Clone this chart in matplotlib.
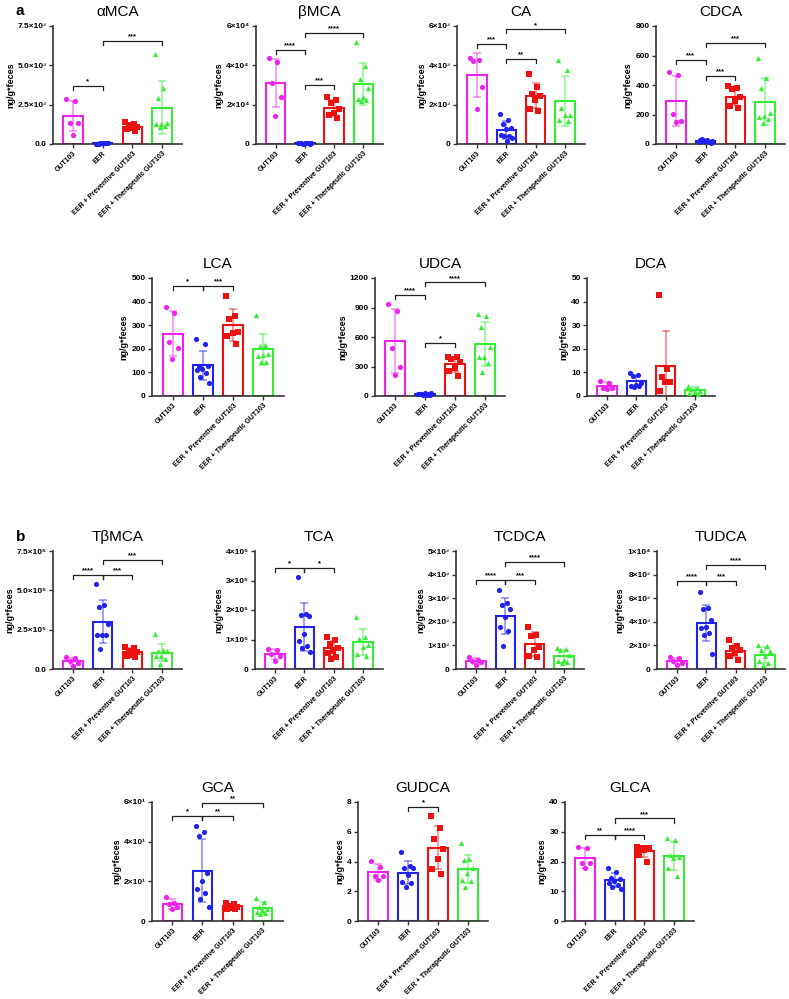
import numpy as np
import matplotlib
matplotlib.use('Agg')
import matplotlib.pyplot as plt

plt.rcParams['font.family'] = ['Liberation Sans', 'DejaVu Sans']

groups = ['GUT103', 'EER', 'EER + Preventive GUT103', 'EER + Therapeutic GUT103']
colors = ['#ee22ee', '#2222ee', '#ee1111', '#33ee33']
markers = ['o', 'o', 's', '^']

# panel a
amca = [[2840, 2740, 1350, 1350, 600],
        [30, 50, 20, 40, 60, 10, 35, 45],
        [1380, 1300, 1180, 1100, 1020, 950, 850],
        [5730, 3590, 2950, 1350, 1300, 1250, 1150, 1100]]
bmca = [[43700, 41700, 31200, 24000, 14200],
        [400, 300, 500, 250, 350, 450, 600, 200, 300],
        [24000, 22300, 20600, 17600, 16000, 14700, 13000],
        [51900, 39700, 33300, 28700, 24000, 22800, 22300, 21800]]
ca = [[4390, 4250, 4220, 2910, 1790],
      [1550, 1240, 1040, 820, 770, 440, 430, 390, 310, 170],
      [3570, 2890, 2550, 2430, 2260, 1800, 1700],
      [4270, 3740, 1840, 1500, 1460, 1240, 1190]]
cdca = [[488, 466, 206, 154, 149],
        [15, 25, 35, 10, 20, 30, 12, 18, 22],
        [391, 378, 372, 320, 292, 255, 246],
        [583, 450, 382, 210, 188, 183, 167, 142]]
lca = [[377, 351, 228, 205, 157],
       [242, 221, 127, 127, 113, 110, 96, 79, 54],
       [425, 340, 326, 271, 266, 255, 221],
       [344, 215, 210, 178, 174, 170, 146, 142]]
udca = [[939, 867, 486, 299, 214],
        [20, 15, 25, 10, 30, 18, 22, 12, 28],
        [401, 401, 374, 350, 289, 255, 204],
        [837, 810, 697, 497, 401, 395, 333, 248]]
dca = [[6.4, 5.4, 3.5, 3.3, 3.0],
       [9.8, 8.8, 8.4, 5.4, 4.8, 4.4, 4.2, 4.0],
       [42.6, 11.3, 8.2, 5.8, 5.8, 2.1],
       [4.4, 3.5, 2.8, 2.3, 1.8, 1.4, 1.0]]

# panel b
tbmca = [[75000, 68000, 52000, 35000, 22000],
         [543000, 407000, 392000, 284000, 217000, 217000, 213000, 126000],
         [140000, 135000, 115000, 105000, 92000, 82000, 75000],
         [223000, 122000, 116000, 112000, 84000, 80000, 63000, 34000]]
tca = [[68000, 66000, 52000, 43000, 26000],
       [313000, 185000, 182000, 179000, 117000, 94000, 77000, 71000, 57000],
       [108000, 98000, 85000, 72000, 62000, 55000, 42000, 35000],
       [176000, 110000, 103000, 80000, 74000, 50000, 45000]]
tcdca = [[510, 390, 350, 300, 150],
         [3340, 2780, 2710, 2530, 2220, 1800, 1590, 980],
         [1800, 1450, 1380, 930, 810, 530, 510],
         [880, 840, 790, 600, 370, 320, 280, 250]]
tudca = [[1010, 930, 650, 510, 310],
         [6540, 5140, 5060, 4160, 3600, 3460, 3030, 2890, 1290],
         [2420, 1910, 1770, 1570, 1350, 1070, 790],
         [2050, 1970, 1570, 1490, 1070, 650, 510, 310]]
gca = [[12.2, 9.1, 8.5, 7.1, 5.9],
       [48, 45, 43, 24, 20, 16, 14, 11, 7],
       [9.1, 8.5, 7.6, 7.1, 6.8, 6.3, 5.9],
       [11.7, 9.6, 7.1, 5.9, 5.4, 4.6, 4.1, 3.7]]
gudca = [[4.05, 3.6, 3.02, 3.02, 2.75],
         [4.66, 3.69, 3.58, 3.54, 3.09, 2.64, 2.57, 2.30],
         [7.03, 6.28, 5.52, 4.82, 4.17, 3.47, 3.15],
         [5.23, 4.14, 4.10, 3.54, 3.24, 2.75, 2.70, 2.30]]
glca = [[24.8, 24.5, 19.4, 19.4, 17.7],
        [17.7, 16.6, 14.6, 14.0, 13.5, 12.8, 12.1, 11.5, 10.9],
        [25.0, 24.7, 24.5, 24.5, 23.9, 22.2, 19.9],
        [27.8, 27.3, 22.2, 21.6, 21.1, 17.7, 15.2]]

# y ticks and labels
amca_ticks = [0, 2500, 5000, 7500]
amca_labels = ['0.0', '2.5×10³', '5.0×10³', '7.5×10³']
bmca_ticks = [0, 20000, 40000, 60000]
bmca_labels = ['0', '2×10⁴', '4×10⁴', '6×10⁴']
ca_ticks = [0, 2000, 4000, 6000]
ca_labels = ['0', '2×10³', '4×10³', '6×10³']
cdca_ticks = [0, 200, 400, 600, 800]
lca_ticks = [0, 100, 200, 300, 400, 500]
udca_ticks = [0, 300, 600, 900, 1200]
dca_ticks = [0, 10, 20, 30, 40, 50]
tbmca_ticks = [0, 250000, 500000, 750000]
tbmca_labels = ['0.0', '2.5×10⁵', '5.0×10⁵', '7.5×10⁵']
tca_ticks = [0, 100000, 200000, 300000, 400000]
tca_labels = ['0', '1×10⁵', '2×10⁵', '3×10⁵', '4×10⁵']
tcdca_ticks = [0, 1000, 2000, 3000, 4000, 5000]
tcdca_labels = ['0', '1×10³', '2×10³', '3×10³', '4×10³', '5×10³']
tudca_ticks = [0, 2000, 4000, 6000, 8000, 10000]
tudca_labels = ['0', '2×10³', '4×10³', '6×10³', '8×10³', '1×10⁴']
gca_ticks = [0, 20, 40, 60]
gca_labels = ['0', '2×10¹', '4×10¹', '6×10¹']
gudca_ticks = [0, 2, 4, 6, 8]
glca_ticks = [0, 10, 20, 30, 40]

# significance brackets (group i, group j, height, label)
amca_sig = [(0, 1, 3700, '*'), (1, 3, 6540, '***')]
bmca_sig = [(0, 1, 48000, '****'), (1, 3, 56600, '****'), (1, 2, 30200, '***')]
ca_sig = [(0, 1, 5070, '***'), (1, 2, 4340, '**'), (1, 3, 5830, '*')]
cdca_sig = [(0, 1, 572, '***'), (1, 2, 459, '***'), (1, 3, 687, '***')]
lca_sig = [(0, 1, 465, '*'), (1, 2, 465, '***')]
udca_sig = [(0, 1, 1030, '****'), (1, 3, 1156, '****'), (1, 2, 537, '*')]
tbmca_sig = [(0, 1, 600000, '****'), (1, 2, 600000, '***'), (1, 3, 691000, '***')]
tca_sig = [(0, 1, 343000, '*'), (1, 2, 343000, '*')]
tcdca_sig = [(0, 1, 3790, '****'), (1, 2, 3790, '***'), (1, 3, 4540, '****')]
tudca_sig = [(0, 1, 7440, '****'), (1, 2, 7440, '***'), (1, 3, 8790, '****')]
gca_sig = [(0, 1, 53.1, '*'), (1, 2, 53.1, '**'), (1, 3, 59.5, '**')]
gudca_sig = [(1, 2, 7.66, '*')]
glca_sig = [(0, 1, 28.8, '**'), (1, 2, 28.8, '****'), (1, 3, 34.5, '***')]

W, H = 789, 999
fig = plt.figure(figsize=(W / 100, H / 100), dpi=100)


def add_ax(l, r, t, b):
    return fig.add_axes([l / W, 1 - b / H, (r - l) / W, (b - t) / H])


def draw(ax, title, data, ticks, labels, sig):
    top = ticks[-1]
    for i, vals in enumerate(data):
        vals = np.asarray(vals, float)
        m, sd = vals.mean(), vals.std(ddof=1)
        ax.bar(i, m, width=0.66, facecolor='white', edgecolor=colors[i],
               linewidth=1.5, zorder=2)
        ax.errorbar(i, m, yerr=sd, color=colors[i], alpha=0.5, capsize=3,
                    elinewidth=1.2, capthick=1.2, zorder=3)
        n = len(vals)
        off = ((np.arange(n) * 0.618) % 1 - 0.5) * 0.46
        ax.scatter(i + off, vals, s=14, marker=markers[i], color=colors[i],
                   linewidths=0, zorder=4, clip_on=False)
    for i, j, y, lab in sig:
        h = top * 0.035
        ax.plot([i, i, j, j], [y - h, y, y, y - h], color='#222222', lw=0.9,
                clip_on=False, zorder=5)
        ax.text((i + j) / 2, y + top * 0.005, lab, ha='center', va='bottom',
                fontsize=5.5, fontweight='bold')
    ax.set_xlim(-0.68, 3.68)
    ax.set_ylim(0, top)
    ax.set_yticks(ticks)
    if labels is None:
        labels = [str(t) for t in ticks]
    ax.set_yticklabels(labels, fontsize=6, fontweight='bold')
    ax.set_xticks(range(4))
    ax.set_xticklabels(groups, rotation=45, ha='right', rotation_mode='anchor',
                       fontsize=5.0, fontweight='bold')
    ax.set_ylabel('ng/g*feces', fontsize=6.5, fontweight='bold', labelpad=2)
    ax.set_title(title, fontsize=11, pad=7)
    for s in ['top', 'right']:
        ax.spines[s].set_visible(False)
    for s in ['left', 'bottom']:
        ax.spines[s].set_linewidth(1.2)
        ax.spines[s].set_color('#333333')
    ax.tick_params(direction='out', length=3, width=1, color='#333333', pad=1.5)


draw(add_ax(53, 182, 26, 144), 'αMCA', amca, amca_ticks, amca_labels, amca_sig)
draw(add_ax(256, 383, 26, 144), 'βMCA', bmca, bmca_ticks, bmca_labels, bmca_sig)
draw(add_ax(457, 585, 26, 144), 'CA', ca, ca_ticks, ca_labels, ca_sig)
draw(add_ax(656, 785, 26, 144), 'CDCA', cdca, cdca_ticks, None, cdca_sig)
draw(add_ax(152, 284, 278, 396), 'LCA', lca, lca_ticks, None, lca_sig)
draw(add_ax(375, 505, 278, 396), 'UDCA', udca, udca_ticks, None, udca_sig)
draw(add_ax(587, 715, 278, 396), 'DCA', dca, dca_ticks, None, [])

draw(add_ax(53, 182, 551, 669), 'TβMCA', tbmca, tbmca_ticks, tbmca_labels, tbmca_sig)
draw(add_ax(255, 383, 551, 669), 'TCA', tca, tca_ticks, tca_labels, tca_sig)
draw(add_ax(456, 584, 551, 669), 'TCDCA', tcdca, tcdca_ticks, tcdca_labels, tcdca_sig)
draw(add_ax(657, 785, 551, 669), 'TUDCA', tudca, tudca_ticks, tudca_labels, tudca_sig)
draw(add_ax(152, 283, 802, 921), 'GCA', gca, gca_ticks, gca_labels, gca_sig)
draw(add_ax(358, 488, 802, 921), 'GUDCA', gudca, gudca_ticks, None, gudca_sig)
draw(add_ax(565, 694, 802, 921), 'GLCA', glca, glca_ticks, None, glca_sig)

fig.text(16 / W, 1 - 15 / H, 'a', fontsize=11, fontweight='bold')
fig.text(16 / W, 1 - 541 / H, 'b', fontsize=11, fontweight='bold')

fig.savefig('out.png', dpi=100, facecolor='white')
